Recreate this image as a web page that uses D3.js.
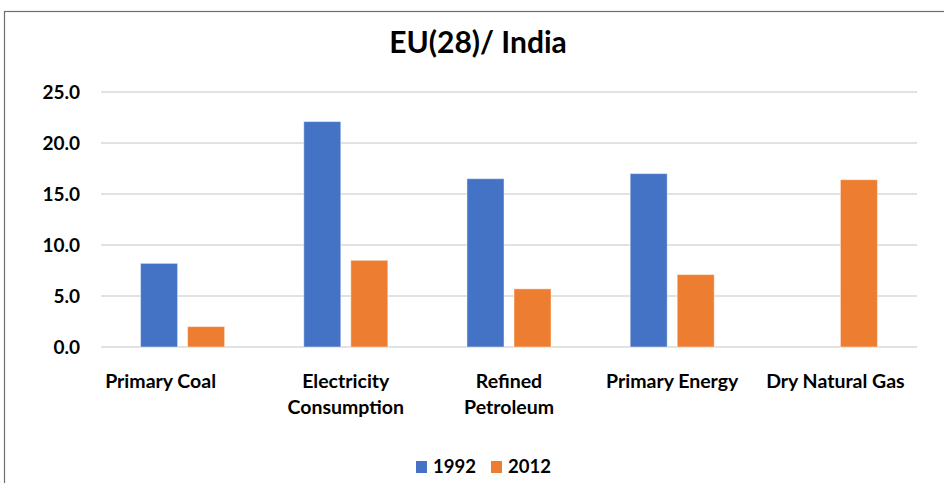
<!DOCTYPE html>
<html>
<head>
<meta charset="utf-8">
<script src="https://cdn.jsdelivr.net/npm/d3@7"></script>
<style>
  html, body { margin: 0; padding: 0; background: #fff; }
  svg { display: block; font-family: Lato, "Open Sans", "DejaVu Sans", sans-serif; }
</style>
</head>
<body>
<svg id="chart" width="944" height="483"></svg>
<script>
// Ratio of EU(28) to India, by energy indicator
const categories = [
  ["Primary Coal"],
  ["Electricity", "Consumption"],
  ["Refined", "Petroleum"],
  ["Primary Energy"],
  ["Dry Natural Gas"]
];
const seriesNames = ["1992", "2012"];
const values1992 = [8.2, 22.1, 16.5, 17.0, null];
const values2012 = [2.0, 8.5, 5.7, 7.1, 16.4];
const yTicks = [0, 5, 10, 15, 20, 25];
const colors = ["#4472C4", "#ED7D31"];
const title = "EU(28)/ India";

const svg = d3.select("#chart");
const W = 944, H = 483;
const plot = { left: 101, right: 917, top: 92, bottom: 347 };

// Outer chart frame
svg.append("rect")
  .attr("x", 4.5).attr("y", 11.5)
  .attr("width", W + 20).attr("height", H + 20)
  .attr("fill", "none").attr("stroke", "#6f6f6f").attr("stroke-width", 1.2);

const keys = categories.map(c => c.join(" "));
const x0 = d3.scaleBand().domain(keys).range([plot.left, plot.right])
  .paddingInner(0.485).paddingOuter(0.2425);
const x1 = d3.scaleBand().domain(seriesNames).range([0, x0.bandwidth()])
  .paddingInner(0.213).paddingOuter(0);
const y = d3.scaleLinear().domain([0, 25]).range([plot.bottom, plot.top]);

// Horizontal gridlines
svg.append("g").selectAll("line").data(yTicks).join("line")
  .attr("x1", plot.left).attr("x2", plot.right)
  .attr("y1", d => y(d)).attr("y2", d => y(d))
  .attr("stroke", "#d9d9d9").attr("stroke-width", 1.5);

// Y axis labels
const yAxis = d3.axisLeft(y).tickValues(yTicks).tickFormat(d3.format(".1f"))
  .tickSize(0).tickPadding(21);
const gy = svg.append("g").attr("transform", `translate(${plot.left},0)`).call(yAxis);
gy.select(".domain").remove();
gy.selectAll("text")
  .attr("font-family", "Lato, sans-serif")
  .attr("font-size", 19).attr("font-weight", 700).attr("fill", "#000");

// Bars
const rows = keys.map((k, i) => ({ key: k, vals: [values1992[i], values2012[i]] }));
const groups = svg.append("g").selectAll("g").data(rows).join("g")
  .attr("transform", d => `translate(${x0(d.key)},0)`);
groups.selectAll("rect")
  .data(d => d.vals.map((v, j) => ({ v, s: seriesNames[j], j })).filter(e => e.v != null))
  .join("rect")
  .attr("x", d => x1(d.s))
  .attr("width", x1.bandwidth())
  .attr("y", d => y(d.v))
  .attr("height", d => y(0) - y(d.v))
  .attr("fill", d => colors[d.j])
  .attr("stroke", "rgba(255,255,255,0.45)").attr("stroke-width", 1);

// Category labels (wrapped onto two lines where needed)
const labels = svg.append("g").selectAll("text").data(categories).join("text")
  .attr("x", (d, i) => x0(keys[i]) + x0.bandwidth() / 2 + (i === 0 ? -22 : 0))
  .attr("y", 388)
  .attr("text-anchor", "middle")
  .attr("font-size", 19.5).attr("font-weight", 700).attr("fill", "#000");
labels.each(function(lines) {
  const t = d3.select(this), xx = t.attr("x");
  lines.forEach((ln, k) => t.append("tspan").attr("x", xx).attr("dy", k ? 26 : 0).text(ln));
});

// Title
svg.append("text").attr("x", 478).attr("y", 53)
  .attr("text-anchor", "middle")
  .attr("font-size", 30).attr("font-weight", 700).attr("fill", "#000")
  .text(title);

// Legend
const legend = svg.append("g").attr("transform", "translate(416,461)");
const legendX = [0, 75];
seriesNames.forEach((s, i) => {
  const g = legend.append("g").attr("transform", `translate(${legendX[i]},0)`);
  g.append("rect").attr("width", 11).attr("height", 12).attr("fill", colors[i]);
  g.append("text").attr("x", 17).attr("y", 12)
    .attr("font-size", 18.5).attr("font-weight", 700).attr("fill", "#000").text(s);
});
</script>
</body>
</html>
